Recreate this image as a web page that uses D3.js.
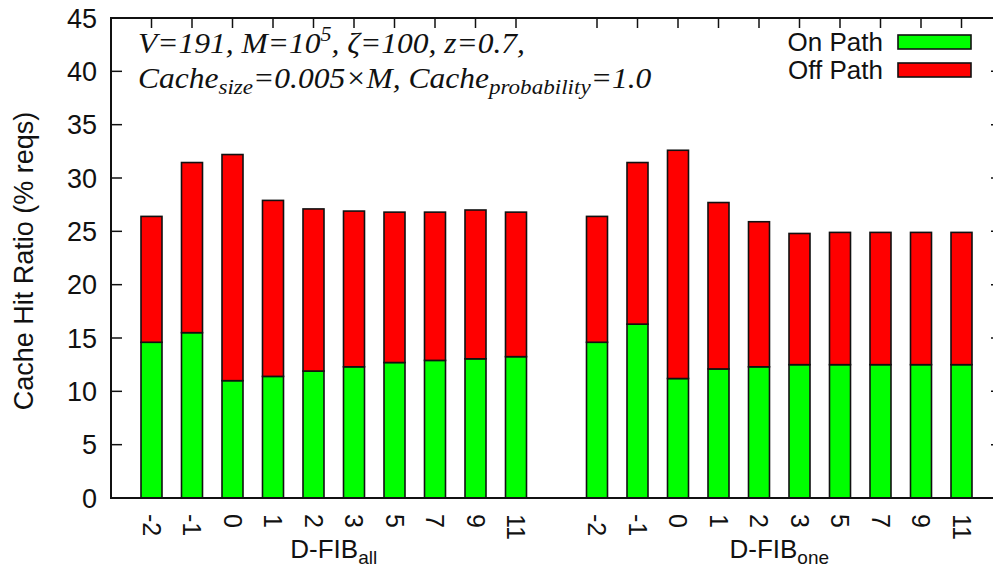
<!DOCTYPE html>
<html>
<head>
<meta charset="utf-8">
<script src="https://cdn.jsdelivr.net/npm/d3@7"></script>
<style>
  body { margin: 0; background: #fff; }
  svg { display: block; }
  .sans { font-family: "Liberation Sans", Arial, sans-serif; fill: #111; }
  .serif { font-family: "Liberation Serif", "Times New Roman", serif; font-style: italic; fill: #111; }
</style>
</head>
<body>
<svg id="chart" width="993" height="572"></svg>
<script>
"use strict";

// D-FIB variants, ticks along the x axis
var fibLevels = ["-2", "-1", "0", "1", "2", "3", "5", "7", "9", "11"];
var groups = ["all", "one"];

// cache hit ratio (% reqs), stacked: on path (bottom) + off path (top)
var onPathAll = [14.6, 15.5, 11.0, 11.4, 11.9, 12.3, 12.7, 12.9, 13.05, 13.25];
var offPathAll = [11.8, 15.95, 21.2, 16.5, 15.2, 14.6, 14.1, 13.9, 13.95, 13.55];
var onPathOne = [14.6, 16.3, 11.2, 12.1, 12.3, 12.5, 12.5, 12.5, 12.5, 12.5];
var offPathOne = [11.8, 15.15, 21.4, 15.6, 13.6, 12.3, 12.4, 12.4, 12.4, 12.4];

var yTicks = [0, 5, 10, 15, 20, 25, 30, 35, 40, 45];

(function () {
  var svg = d3.select("#chart"),
    left = 111,
    right = 1002,
    plotTop = 18,
    plotBottom = 498,
    barWidth = 21,
    green = "#00ff00",
    red = "#ff0000";

  // one slot per bar, slot 10 left empty between the two groups
  var x = d3.scaleLinear()
    .domain([-1, 21])
    .range([left, right]);

  var y = d3.scaleLinear()
    .domain([0, 45])
    .range([plotBottom, plotTop]);

  function slotOf(g, i) {
    return g === 0 ? i : i + 11;
  }

  var rows = [];
  [[onPathAll, offPathAll], [onPathOne, offPathOne]].forEach(function (pair, g) {
    fibLevels.forEach(function (lvl, i) {
      rows.push({ group: g, level: lvl, slot: slotOf(g, i), on: pair[0][i], off: pair[1][i] });
    });
  });

  var layers = d3.stack().keys(["on", "off"])(rows);
  var colors = { on: green, off: red };

  // frame ticks
  var ticks = svg.append("g");
  yTicks.forEach(function (t) {
    ticks.append("line")
      .attr("x1", left).attr("x2", left + 11)
      .attr("y1", y(t)).attr("y2", y(t));
    ticks.append("line")
      .attr("x1", right).attr("x2", right - 11)
      .attr("y1", y(t)).attr("y2", y(t));
  });
  rows.forEach(function (d) {
    ticks.append("line")
      .attr("x1", x(d.slot)).attr("x2", x(d.slot))
      .attr("y1", plotTop).attr("y2", plotTop + 10);
    ticks.append("line")
      .attr("x1", x(d.slot)).attr("x2", x(d.slot))
      .attr("y1", plotBottom).attr("y2", plotBottom - 10);
  });
  ticks.selectAll("line")
    .attr("stroke", "#111")
    .attr("stroke-width", 1.5);

  // stacked bars
  svg.append("g")
    .selectAll("g")
    .data(layers)
    .enter()
    .append("g")
    .attr("fill", function (d) { return colors[d.key]; })
    .selectAll("rect")
    .data(function (d) { return d; })
    .enter()
    .append("rect")
    .attr("x", function (d) { return x(d.data.slot) - barWidth / 2; })
    .attr("width", barWidth)
    .attr("y", function (d) { return y(d[1]); })
    .attr("height", function (d) { return y(d[0]) - y(d[1]); })
    .attr("stroke", "#111")
    .attr("stroke-width", 1.6);

  // frame
  svg.append("rect")
    .attr("x", left).attr("y", plotTop)
    .attr("width", right - left).attr("height", plotBottom - plotTop)
    .attr("fill", "none")
    .attr("stroke", "#111")
    .attr("stroke-width", 2);

  // y tick labels
  svg.append("g")
    .selectAll("text")
    .data(yTicks)
    .enter()
    .append("text")
    .attr("class", "sans")
    .attr("x", 97)
    .attr("y", function (d) { return y(d); })
    .attr("dy", "0.36em")
    .attr("text-anchor", "end")
    .style("font-size", "27px")
    .text(function (d) { return d; });

  // x tick labels, rotated to read downward
  svg.append("g")
    .selectAll("text")
    .data(rows)
    .enter()
    .append("text")
    .attr("class", "sans")
    .attr("transform", function (d) {
      return "translate(" + x(d.slot) + "," + 514 + ") rotate(90)";
    })
    .attr("dy", "0.36em")
    .attr("text-anchor", "start")
    .style("font-size", "25px")
    .text(function (d) { return d.level; });

  // group labels
  groups.forEach(function (name, g) {
    var mid = (x(slotOf(g, 0)) + x(slotOf(g, fibLevels.length - 1))) / 2;
    var t = svg.append("text")
      .attr("class", "sans")
      .attr("x", mid)
      .attr("y", 558)
      .attr("text-anchor", "middle")
      .style("font-size", "26px");
    t.append("tspan").text("D-FIB");
    t.append("tspan")
      .attr("dy", 6)
      .style("font-size", "19px")
      .text(name);
  });

  // y axis title
  svg.append("text")
    .attr("class", "sans")
    .attr("transform", "translate(33,261) rotate(-90)")
    .attr("text-anchor", "middle")
    .style("font-size", "27px")
    .text("Cache Hit Ratio (% reqs)");

  // parameter annotation
  var note = svg.append("g")
    .attr("transform", "translate(138,0) scale(1.05,1)");

  var note1 = note.append("text")
    .attr("class", "serif")
    .attr("x", 0)
    .attr("y", 53)
    .style("font-size", "30px");
  note1.append("tspan").text("V=191, M=10");
  note1.append("tspan").attr("dy", -12).style("font-size", "21px").text("5");
  note1.append("tspan").attr("dy", 12).text(", \u03b6=100, z=0.7,");

  var note2 = note.append("text")
    .attr("class", "serif")
    .attr("x", 0)
    .attr("y", 88)
    .style("font-size", "30px");
  note2.append("tspan").text("Cache");
  note2.append("tspan").attr("dy", 6).style("font-size", "22px").text("size");
  note2.append("tspan").attr("dy", -6).text("=0.005\u00d7M, Cache");
  note2.append("tspan").attr("dy", 6).style("font-size", "22px").text("probability");
  note2.append("tspan").attr("dy", -6).text("=1.0");

  // legend
  var legend = svg.append("g")
    .selectAll("g")
    .data([["On Path", green], ["Off Path", red]])
    .enter()
    .append("g")
    .attr("transform", function (d, i) { return "translate(0," + (i * 28) + ")"; });
  legend.append("text")
    .attr("class", "sans")
    .attr("x", 883)
    .attr("y", 51)
    .attr("text-anchor", "end")
    .style("font-size", "26px")
    .text(function (d) { return d[0]; });
  legend.append("rect")
    .attr("x", 898)
    .attr("y", 35)
    .attr("width", 73)
    .attr("height", 14)
    .attr("fill", function (d) { return d[1]; })
    .attr("stroke", "#111")
    .attr("stroke-width", 1.6);
})();
</script>
</body>
</html>
